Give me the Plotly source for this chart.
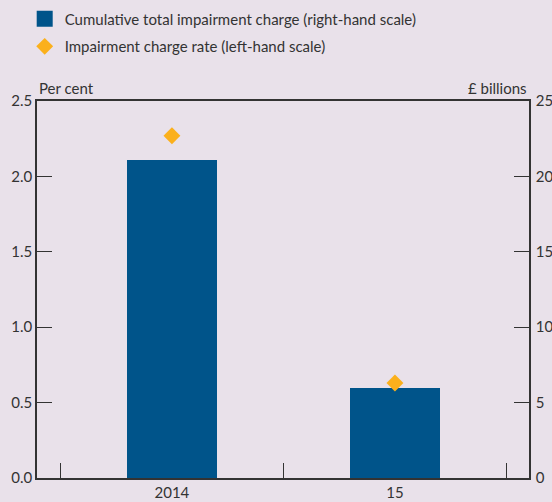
import plotly.graph_objects as go

# Data
years = ["2014", "15"]
cumulative_charge = [21.1, 6.0]     # £ billions, right-hand scale
charge_rate = [2.27, 0.63]          # per cent, left-hand scale

BG = "#e9e1ea"
BLUE = "#00548a"
ORANGE = "#fbb01c"
INK = "#333333"
FONT = "Lato"

fig = go.Figure()

# bars on the right-hand axis (primary y)
fig.add_trace(go.Bar(
    x=years, y=cumulative_charge, yaxis="y",
    marker=dict(color=BLUE, line=dict(width=0)),
    width=0.4, showlegend=False,
))

# diamonds on the left-hand axis (overlay, drawn on top)
fig.add_trace(go.Scatter(
    x=years, y=charge_rate, yaxis="y2", mode="markers",
    marker=dict(symbol="diamond", size=13, color=ORANGE),
    showlegend=False,
))

# legend entries
fig.add_trace(go.Scatter(
    x=[None], y=[None], mode="markers", name="Cumulative total impairment charge (right-hand scale)",
    marker=dict(symbol="square", size=16, color=BLUE), legendgroup="a",
))
fig.add_trace(go.Scatter(
    x=[None], y=[None], mode="markers", name="Impairment charge rate (left-hand scale)",
    marker=dict(symbol="diamond", size=13, color=ORANGE), legendgroup="b",
))

fig.update_layout(
    width=552, height=502,
    paper_bgcolor=BG, plot_bgcolor=BG,
    margin=dict(l=37, r=23, t=101, b=24, autoexpand=False),
    font=dict(family=FONT, size=15, color=INK),
    bargap=0,
    legend=dict(x=-0.025, y=1.261, xanchor="left", yanchor="top",
                bgcolor="rgba(0,0,0,0)", font=dict(size=15),
                tracegroupgap=5, itemsizing="trace"),
    xaxis=dict(type="category", range=[-0.605, 1.601],
               showline=True, linecolor=INK, linewidth=1.5, mirror=True,
               ticks="inside", tickson="boundaries", ticklen=15, tickcolor=INK,
               showgrid=False, zeroline=False),
    yaxis=dict(side="right", range=[0, 25], dtick=5, tickformat="d",
               showline=True, linecolor=INK, linewidth=1.5,
               ticks="inside", ticklen=15, tickcolor=INK,
               showgrid=False, zeroline=False, ticklabelstandoff=2),
    yaxis2=dict(side="left", overlaying="y", range=[0, 2.5], dtick=0.5, tickformat=".1f",
                showline=True, linecolor=INK, linewidth=1.5,
                ticks="inside", ticklen=15, tickcolor=INK,
                showgrid=False, zeroline=False),
)

fig.add_annotation(text="Per cent", xref="paper", yref="paper", x=0, y=1,
                   xanchor="left", yanchor="bottom", yshift=2, showarrow=False)
fig.add_annotation(text="£ billions", xref="paper", yref="paper", x=1, y=1,
                   xanchor="right", yanchor="bottom", yshift=2, showarrow=False)

# drop the page's default 8px body margin so the figure fills the window
page_js = ("document.body.style.margin='0';"
           "document.body.style.overflow='hidden';"
           "document.body.style.background='%s';" % BG)
fig.write_html("out.html", post_script=page_js, config={"displayModeBar": False})
